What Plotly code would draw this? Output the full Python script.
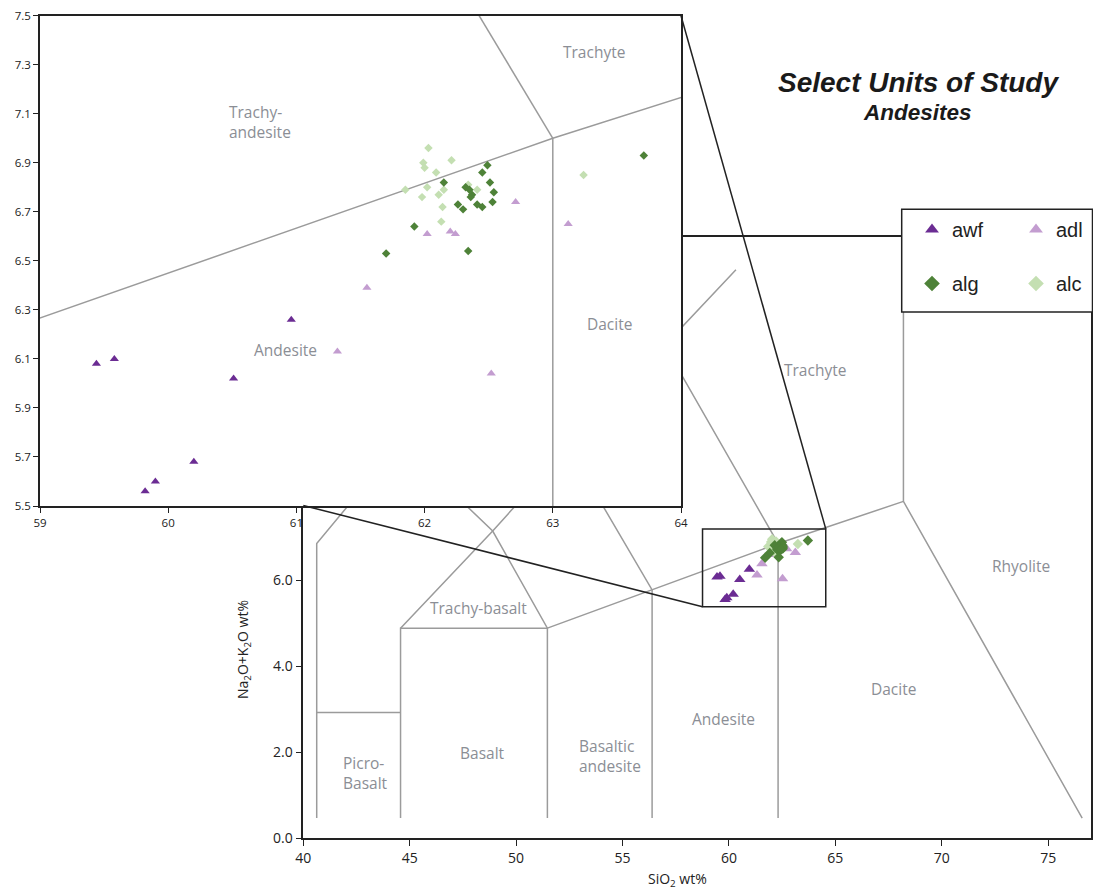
import plotly.graph_objects as go

W, H = 1093, 889

# ---------------- data (SiO2 wt%, Na2O+K2O wt%) ----------------
awf_x = [59.44, 59.58, 60.96, 60.51, 60.20, 59.90, 59.82]
awf_y = [6.08, 6.10, 6.26, 6.02, 5.68, 5.60, 5.56]

adl_x = [61.32, 61.55, 62.02, 62.20, 62.24, 62.71, 63.12, 62.52]
adl_y = [6.13, 6.39, 6.61, 6.62, 6.61, 6.74, 6.65, 6.04]

alg_x = [62.49, 62.45, 62.51, 62.15, 62.32, 62.35, 62.37, 62.36, 62.54,
         62.53, 62.26, 62.30, 62.41, 62.45, 61.92, 61.70, 62.34, 63.71]
alg_y = [6.89, 6.86, 6.82, 6.82, 6.80, 6.79, 6.77, 6.76, 6.78,
         6.74, 6.73, 6.71, 6.73, 6.72, 6.64, 6.53, 6.54, 6.93]

alc_x = [62.03, 61.99, 62.00, 62.21, 62.09, 61.85, 62.02, 62.15,
         61.98, 62.11, 62.34, 62.41, 62.14, 62.13, 63.24]
alc_y = [6.96, 6.90, 6.88, 6.91, 6.86, 6.79, 6.80, 6.79,
         6.76, 6.77, 6.81, 6.79, 6.72, 6.66, 6.85]

series_names = ["awf", "adl", "alg", "alc"]
series_colors = ["#6b2c93", "#c39dd0", "#4e8238", "#c4dfb2"]
series_symbols = ["triangle-up", "triangle-up", "diamond", "diamond"]

# TAS field boundaries as drawn on the main diagram
main_bound_x = [
    [40.63, 40.63, 44.57, 47.92, 51.96],
    [40.63, 44.57],
    [44.57, 44.57, 51.47],
    [44.57, 48.90, 52.45, 56.98],
    [51.47, 51.47, 48.90, 44.57],
    [51.47, 56.39, 62.31, 68.20],
    [56.39, 56.39, 52.45],
    [62.31, 62.31, 56.98, 60.33],
    [76.60, 68.20, 68.20],
]
main_bound_y = [
    [0.47, 6.86, 9.21, 11.27, 13.72],
    [2.93, 2.93],
    [0.47, 4.89, 4.89],
    [4.89, 7.15, 9.11, 11.47],
    [0.47, 4.89, 7.15, 9.21],
    [4.89, 5.78, 6.86, 7.84],
    [0.47, 5.78, 9.11],
    [0.47, 6.86, 11.47, 13.23],
    [0.47, 7.84, 12.74],
]

# TAS boundaries in the enlarged inset
inset_bound_x = [[57.0, 63.0, 69.0], [63.0, 63.0], [63.0, 57.6]]
inset_bound_y = [[5.9, 7.0, 8.0], [0.0, 7.0], [7.0, 11.7]]

main_labels = ["Picro-<br>Basalt", "Basalt", "Trachy-basalt", "Basaltic<br>andesite",
               "Andesite", "Dacite", "Rhyolite", "Trachyte"]
main_label_x = [41.78, 48.42, 48.24, 52.86, 59.73, 67.73, 73.74, 64.06]
main_label_y = [1.53, 1.98, 5.37, 1.91, 2.77, 3.48, 6.33, 10.89]
main_label_anchor = ["left", "center", "center", "left", "center", "center", "center", "center"]

inset_labels = ["Trachy-<br>andesite", "Trachyte", "Andesite", "Dacite"]
inset_label_x = [60.456, 63.324, 60.916, 63.441]
inset_label_y = [7.066, 7.353, 6.137, 6.243]
inset_label_anchor = ["left", "center", "center", "center"]

zoom_box_x = [58.76, 64.55]
zoom_box_y = [5.39, 7.20]

main_xrange = [40, 77]
main_yrange = [0, 14]
inset_xrange = [59, 64]
inset_yrange = [5.5, 7.5]

# ---------------- layout geometry (pixels) ----------------
main_px = (303.3, 1090.7)   # left, right
main_py = (838.3, 236.7)    # bottom, top
inset_px = (40.0, 681.0)
inset_py = (506.0, 15.7)


def fx(px):
    return px / W


def fy(py):
    return 1 - py / H


main_dx = [fx(main_px[0]), fx(main_px[1])]
main_dy = [fy(main_py[0]), fy(main_py[1])]
inset_dx = [fx(inset_px[0]), fx(inset_px[1])]
inset_dy = [fy(inset_py[0]), fy(inset_py[1])]


def main_to_paper(x, y):
    px = main_dx[0] + (x - main_xrange[0]) / (main_xrange[1] - main_xrange[0]) * (main_dx[1] - main_dx[0])
    py = main_dy[0] + (y - main_yrange[0]) / (main_yrange[1] - main_yrange[0]) * (main_dy[1] - main_dy[0])
    return px, py


def join(lists):
    out = []
    for i, l in enumerate(lists):
        if i:
            out.append(None)
        out.extend(l)
    return out


LINE_GRAY = "#9b9b9b"
LABEL_GRAY = "#8b8e95"
DARK = "#222222"
TICK_FONT = "Open Sans"

fig = go.Figure()

# main diagram boundaries
fig.add_trace(go.Scatter(x=join(main_bound_x), y=join(main_bound_y), mode="lines",
                         line=dict(color=LINE_GRAY, width=1.5), showlegend=False,
                         hoverinfo="skip", xaxis="x", yaxis="y"))
# inset boundaries
fig.add_trace(go.Scatter(x=join(inset_bound_x), y=join(inset_bound_y), mode="lines",
                         line=dict(color=LINE_GRAY, width=1.5), showlegend=False,
                         hoverinfo="skip", xaxis="x2", yaxis="y2"))

data_x = [awf_x, adl_x, alg_x, alc_x]
data_y = [awf_y, adl_y, alg_y, alc_y]
draw_order = [0, 1, 3, 2]
main_sizes = [10, 10, 8, 8]
inset_sizes = [8, 8, 6.5, 6.5]
legend_ids = {0: "legend", 2: "legend", 1: "legend2", 3: "legend2"}

for i in draw_order:
    fig.add_trace(go.Scatter(x=data_x[i], y=data_y[i], mode="markers", name=series_names[i],
                             marker=dict(symbol=series_symbols[i], color=series_colors[i],
                                         size=main_sizes[i], line=dict(width=0)),
                             showlegend=False, xaxis="x", yaxis="y"))
for i in draw_order:
    fig.add_trace(go.Scatter(x=data_x[i], y=data_y[i], mode="markers", name=series_names[i],
                             marker=dict(symbol=series_symbols[i], color=series_colors[i],
                                         size=inset_sizes[i], line=dict(width=0)),
                             legend=legend_ids[i], legendgroup=series_names[i],
                             legendrank={0: 1, 2: 2, 1: 1, 3: 2}[i],
                             showlegend=True, xaxis="x2", yaxis="y2"))

axis_common = dict(showgrid=False, zeroline=False, showline=True, mirror=True,
                   linecolor=DARK, linewidth=1.5, ticks="outside", tickcolor=DARK,
                   tickwidth=1.2)

legend_common = dict(xanchor="left", yanchor="top", orientation="v",
                     bgcolor="rgba(0,0,0,0)", borderwidth=0, itemsizing="constant",
                     tracegroupgap=25, traceorder="grouped",
                     font=dict(family="Liberation Sans", size=20, color=DARK))

fig.update_layout(
    width=W, height=H,
    margin=dict(l=0, r=0, t=0, b=0, autoexpand=False),
    paper_bgcolor="white", plot_bgcolor="white",
    xaxis=dict(domain=main_dx, range=main_xrange, tickvals=[40, 45, 50, 55, 60, 65, 70, 75],
               ticklen=6, tickfont=dict(family=TICK_FONT, size=14, color=DARK), **axis_common),
    yaxis=dict(domain=main_dy, range=main_yrange, tickvals=[0, 2, 4, 6, 8, 10, 12, 14],
               tickformat=".1f", ticklen=6,
               tickfont=dict(family=TICK_FONT, size=14, color=DARK), **axis_common),
    xaxis2=dict(domain=inset_dx, range=inset_xrange, anchor="y2", tickvals=[59, 60, 61, 62, 63, 64],
                ticklen=5, tickfont=dict(family=TICK_FONT, size=11.5, color=DARK), **axis_common),
    yaxis2=dict(domain=inset_dy, range=inset_yrange, anchor="x2",
                tickvals=[5.5, 5.7, 5.9, 6.1, 6.3, 6.5, 6.7, 6.9, 7.1, 7.3, 7.5],
                tickformat=".1f", ticklen=5,
                tickfont=dict(family=TICK_FONT, size=11.5, color=DARK), **axis_common),
    legend=dict(x=fx(912), y=fy(210), **legend_common),
    legend2=dict(x=fx(1016), y=fy(210), **legend_common),
)

shapes = []
# legend frame (opaque, over the main diagram)
shapes.append(dict(type="rect", xref="paper", yref="paper", x0=fx(901.7), x1=fx(1092.5),
                   y0=fy(312), y1=fy(209.3), fillcolor="white",
                   line=dict(color=DARK, width=1.5), layer="above"))
# zoom box on main diagram
shapes.append(dict(type="rect", xref="x", yref="y", x0=zoom_box_x[0], x1=zoom_box_x[1],
                   y0=zoom_box_y[0], y1=zoom_box_y[1], line=dict(color=DARK, width=1.5),
                   layer="above"))
# connector lines inset -> zoom box
tr = main_to_paper(zoom_box_x[1], zoom_box_y[1])
bl = main_to_paper(zoom_box_x[0], zoom_box_y[0])
shapes.append(dict(type="line", xref="paper", yref="paper", x0=inset_dx[1], y0=inset_dy[1],
                   x1=tr[0], y1=tr[1], line=dict(color=DARK, width=1.5), layer="above"))
shapes.append(dict(type="line", xref="paper", yref="paper", x0=main_dx[0], y0=fy(505.5),
                   x1=bl[0], y1=bl[1], line=dict(color=DARK, width=1.5), layer="above"))
fig.update_layout(shapes=shapes)

annotations = []
for t, x, y, a in zip(main_labels, main_label_x, main_label_y, main_label_anchor):
    annotations.append(dict(text=t, x=x, y=y, xref="x", yref="y", showarrow=False,
                            xanchor=a, yanchor="middle", align="left",
                            font=dict(family="Open Sans", size=15.5, color=LABEL_GRAY)))
for t, x, y, a in zip(inset_labels, inset_label_x, inset_label_y, inset_label_anchor):
    annotations.append(dict(text=t, x=x, y=y, xref="x2", yref="y2", showarrow=False,
                            xanchor=a, yanchor="middle", align="left",
                            font=dict(family="Open Sans", size=15.5, color=LABEL_GRAY)))
# titles
annotations.append(dict(text="Select Units of Study", x=fx(918.8), y=fy(83), xref="paper", yref="paper",
                        showarrow=False, xanchor="center", yanchor="middle",
                        font=dict(family="Liberation Sans", size=28, color="#1a1a1a",
                                  weight="bold", style="italic")))
annotations.append(dict(text="Andesites", x=fx(917.5), y=fy(112), xref="paper", yref="paper",
                        showarrow=False, xanchor="center", yanchor="middle",
                        font=dict(family="Liberation Sans", size=22.5, color="#1a1a1a",
                                  weight="bold", style="italic")))
# axis titles
annotations.append(dict(text="SiO<sub>2</sub> wt%", x=fx(677), y=fy(879), xref="paper", yref="paper",
                        showarrow=False, xanchor="center", yanchor="middle",
                        font=dict(family="Open Sans", size=14, color=DARK)))
annotations.append(dict(text="Na<sub>2</sub>O+K<sub>2</sub>O wt%", x=fx(243), y=fy(650),
                        xref="paper", yref="paper", textangle=-90,
                        showarrow=False, xanchor="center", yanchor="middle",
                        font=dict(family="Open Sans", size=14, color=DARK)))
fig.update_layout(annotations=annotations)

# remove the default page margin so the figure sits at the window's top-left corner
fig.write_html("out.html", config={"displayModeBar": False},
               post_script="document.body.style.margin='0';")
